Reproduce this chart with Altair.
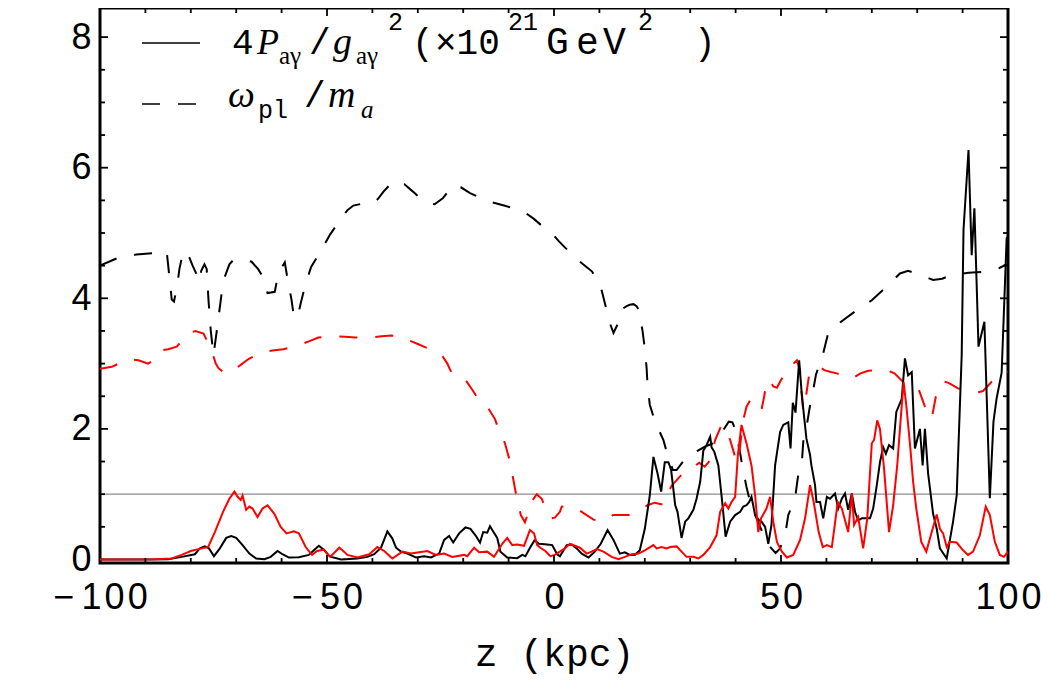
import altair as alt
import pandas as pd

# ---------------- data ----------------
# black solid: 4 P/g^2
bs_z = [-100, -90, -85, -82, -79.1, -78, -76.9, -76, -74.9, -73.6, -72.2, -71.1, -70, -68.6, -67.1, -65.6,
        -63.8, -62.4, -60.9, -59.8, -58.4, -56.2, -54, -52.9, -51.8, -50.7, -49.6, -49.1, -46.9, -43.3, -41.1,
        -39.6, -38.1, -36.7, -35.6, -34.8, -33.7, -32.3, -30.4, -28.6, -27.1, -25.3, -24.2, -23.1, -22.2, -20.9,
        -19.5, -18.4, -17.3, -16.3, -15.6, -14.7, -14.1, -13.6, -12.5, -11.8, -10.3, -8.1, -7, -6.3, -5.2, -4.3,
        -3.3, -1.5, -0.4, 0.7, 1.3, 2.8, 3.9, 5, 6.1, 7.6, 9, 10.3, 11.8, 13.1, 14.5, 15.6, 16.7, 17.8, 18.9,
        20, 21.1, 21.9, 22.8, 23.6, 24.4, 25.2, 25.8, 26.7, 27.2, 28.1, 28.9, 29.6, 30.7, 31.4, 32.2, 32.9, 33.6,
        34.4, 34.7, 35.3, 36.2, 36.9, 37.8, 38.8, 39.9, 41, 41.7, 42.4, 43, 43.5, 44.3, 45.2, 45.7, 46.5, 47.2,
        47.9, 48.7, 49.8, 50.5, 51.6, 52.1, 52.6, 53.2, 54.0, 54.5, 54.9, 55.6, 56.4, 56.7, 57.5, 57.8, 58.6,
        59.3, 60.1, 60.8, 61.9, 62.6, 63.4, 64.1, 64.8, 65.6, 66.3, 67, 67.8, 69.6, 70.3, 71.1, 71.8, 72.5, 73.1,
        73.8, 74.7, 75.4, 76.6, 77.3, 78, 78.8, 79.5, 80.6, 81.2, 81.7, 82.4, 83.5, 84.3, 85, 86.5, 87.9, 88.7,
        89.8, 90.2, 91.3, 92, 92.6, 93.5, 94.8, 96, 96.8, 97.5, 98.6, 99.7, 100]
bs_v = [0, 0, 0.005, 0.04, 0.08, 0.17, 0.2, 0.17, 0.05, 0.17, 0.33, 0.36, 0.33, 0.22, 0.09, 0.015,
        0.005, 0.04, 0.13, 0.08, 0.03, 0.035, 0.07, 0.14, 0.21, 0.15, 0.06, 0.04, 0.0, 0.015, 0.04,
        0.08, 0.18, 0.43, 0.32, 0.18, 0.12, 0.09, 0.03, 0.05, 0.03, 0.09, 0.3, 0.36, 0.26, 0.4,
        0.49, 0.47, 0.37, 0.26, 0.42, 0.41, 0.51, 0.45, 0.33, 0.12, 0.03, 0.02, 0.07, 0.05, 0.19, 0.29,
        0.24, 0.23, 0.22, 0.08, 0.05, 0.22, 0.23, 0.17, 0.09, 0.03, 0.12, 0.24, 0.45, 0.3, 0.09, 0.11, 0.07, 0.07, 0.14,
        0.47, 0.98, 1.57, 1.32, 1.04, 1.49, 1.49, 1.37, 0.83, 0.73, 0.33, 0.58, 0.63, 0.76, 0.93, 1.19, 1.67, 1.75,
        1.88, 1.72, 1.65, 1.44, 0.98, 0.35, 0.58, 0.68, 0.73, 0.81, 0.83, 0.88, 0.96, 0.68, 0.6, 0.58, 0.5, 0.24,
        0.53, 1.44, 1.95, 2.06, 2.1, 1.7, 2.4, 2.25, 3.05, 2.6, 2.31, 1.85, 1.6, 1.44, 1.14, 0.88, 0.88,
        0.63, 0.96, 0.93, 1.01, 0.78, 0.93, 1.01, 0.76, 1.01, 0.73, 0.6, 0.63, 0.63, 0.78, 1.14, 1.49, 1.72, 1.62,
        1.75, 1.7, 2.26, 2.46, 3.08, 2.82, 2.87, 1.7, 2.0, 1.44, 2.0, 1.32, 0.7, 0.47, 0.17, 0.015, 0.58, 0.98,
        3.13, 5.05, 6.27, 4.66, 5.38, 3.26, 3.64, 0.94, 2.11, 2.47, 2.86, 4.92, 4.95]

# red solid
rs_z = [-100, -88, -84.2, -82, -80, -77.6, -76.2, -74.7, -72.9, -71.5, -70.4, -69.7, -69, -68.6, -67.8, -67.1,
        -66.4, -65.3, -64.2, -63.1, -61.6, -60.2, -58.9, -57.3, -56.2, -54.7, -53.3, -52.2, -50.7, -49.3, -47.3,
        -46.6, -45.5, -43.3, -40.7, -38.9, -37.4, -35.6, -33.4, -31.5, -29.7, -27.9, -26, -24.2, -22.4, -19.8,
        -19.1, -17.6, -16.5, -14.7, -13.2, -11.4, -10.3, -9.2, -8.1, -6.6, -5.3, -4.4, -3.7, -3, -1.9, -0.8,
        0.2, 1.3, 2.4, 3.5, 4.6, 5.7, 7.2, 8.3, 9.4, 10.9, 12.7, 14.2, 15.6, 17.1, 18.6, 20, 21.9, 22.6, 23.7,
        24.8, 25.6, 27, 28.1, 29.2, 30.7, 31.8, 32.9, 34.4, 35.8, 36.6, 37.7, 38.4, 39.1, 39.9, 40.5, 41.3, 42.4,
        43.5, 44.3, 45, 45.6, 46.8, 47.6, 48.3, 49.1, 50.2, 51.3, 52.7, 54.2, 55.3, 56.4, 57.2, 58.3, 59.2, 60.1,
        61.2, 62.5, 63.4, 64.8, 65.6, 66.1, 67, 68.1, 69, 70, 70.5, 71.2, 71.8, 72.7, 73.8, 74.7, 75.6, 76.2, 77,
        77.6, 78.5, 79.1, 79.8, 80.9, 82, 83.2, 84.3, 85, 85.7, 86.5, 87.2, 88.7, 90.1, 91.2, 92.3, 93.8, 95.1,
        96, 97.1, 98.2, 99.1, 100]
rs_v = [0, 0.005, 0.015, 0.07, 0.13, 0.17, 0.19, 0.42, 0.73, 0.93, 1.04, 0.96, 0.91, 0.98, 0.76, 0.81,
        0.78, 0.65, 0.78, 0.83, 0.70, 0.5, 0.4, 0.43, 0.4, 0.19, 0.07, 0.13, 0.15, 0.04, 0.18,
        0.14, 0.07, 0.03, 0.08, 0.19, 0.13, 0.015, 0.12, 0.09, 0.11, 0.13, 0.07, 0.09, 0.04, 0.07,
        0.05, 0.18, 0.11, 0.12, 0.04, 0.24, 0.33, 0.22, 0.23, 0.21, 0.45, 0.4, 0.22, 0.18, 0.13, 0.05,
        0.07, 0.12, 0.17, 0.24, 0.21, 0.18, 0.09, 0.12, 0.16, 0.12, 0.04, 0.005, 0.04, 0.08, 0.09, 0.14, 0.22, 0.17, 0.19,
        0.17, 0.19, 0.2, 0.12, 0.04, 0.04, 0.015, 0.07, 0.19, 0.37, 0.73, 0.86, 0.78, 0.88, 0.96, 1.6, 2.06, 1.78,
        1.44, 0.98, 0.42, 0.63, 0.78, 0.96, 0.58, 0.27, 0.12, 0.03, 0.07, 0.3, 0.63, 1.14, 0.88, 0.42, 0.19, 0.22,
        0.19, 0.88, 0.78, 0.42, 1.01, 0.53, 0.65, 0.17, 0.63, 1.78, 1.83, 2.13, 2.0, 1.39, 0.42, 0.83, 1.44, 2.0, 2.72,
        2.36, 1.7, 1.19, 0.78, 0.27, 0.12, 0.42, 0.69, 0.47, 0.4, 0.19, 0.27, 0.26, 0.14, 0.07, 0.12, 0.37, 0.81,
        0.68, 0.27, 0.07, 0.04, 0.12]

# black dashed: omega_pl / m_a
bd_z = [-100, -96, -92, -88.3, -85.3, -84.9, -84.2, -83.7, -83, -82.5, -81.8, -81.3, -80.3, -79.6, -78.8,
        -78.3, -77.7, -77, -76.5, -76.1, -75.6, -75, -74.3, -73.2, -72.5, -71.5, -70.6, -68.5, -66.6, -65.2,
        -64.4, -63.1, -61.5, -60.7, -59.3, -58.7, -57.8, -57.3, -56.5, -55.8, -54.8, -53.5, -51.5, -49.3, -47.1,
        -45.5, -44.2, -42.2, -40.5, -38.8, -37.6, -36, -34.7, -33, -31, -29.3, -27.9, -26.3, -24.5, -22.3, -20.5,
        -18.5, -16.5, -14.8, -11, -6.9, -4.5, -2.5, -0.5, 1, 2.4, 5.2, 8.4, 10.4, 11.4, 12.3, 13.1, 14, 14.9,
        16, 16.7, 17.5, 18.2, 18.7, 19.5, 20, 20.4, 20.6, 21.1, 22.2, 24.1, 25, 26.2, 27, 29.2, 31.5, 33.3, 35.8,
        37, 38.5, 39.3, 40, 41, 41.5, 42.4, 43, 44.5, 46, 47.5, 48.8, 49.8, 50.9, 51.6, 53.1, 53.8, 54.6, 54.9,
        55.7, 56.3, 57, 57.7, 59.3, 60.4, 63, 66.7, 70, 73.3, 76.2, 78, 79.9, 83.5, 85.5, 87.6, 91.3, 95.7, 98, 100]
bd_v = [4.5, 4.62, 4.67, 4.69, 4.71, 4.45, 3.98, 3.95, 4.2, 4.45, 4.68, 4.73, 4.62, 4.5, 4.38,
        4.25, 4.42, 4.52, 4.45, 3.97, 3.5, 3.13, 3.49, 4.08, 4.33, 4.52, 4.59, 4.6, 4.56, 4.45,
        4.36, 4.08, 4.1, 4.39, 4.55, 4.3, 3.97, 3.72, 3.7, 3.92, 4.2, 4.48, 4.71, 4.98, 5.2,
        5.35, 5.42, 5.45, 5.44, 5.52, 5.63, 5.75, 5.8, 5.75, 5.63, 5.52, 5.46, 5.44, 5.53, 5.73, 5.7,
        5.61, 5.55, 5.49, 5.42, 5.34, 5.22, 5.1, 5.0, 4.88, 4.78, 4.59, 4.41, 4.15, 3.87, 3.62, 3.47, 3.6, 3.83,
        3.88, 3.9, 3.91, 3.88, 3.82, 3.5, 3.23, 2.93, 2.67, 2.37, 2.12, 1.83, 1.6, 1.37, 1.37, 1.57, 1.66, 1.73, 1.8,
        1.95, 2.11, 2.1, 1.98, 1.63, 1.42, 1.11, 0.94, 0.65, 0.4, 0.2, 0.1, 0.17, 0.37, 0.68, 0.94, 1.3, 1.49, 1.8,
        2.06, 2.32, 2.56, 2.83, 3.16, 3.47, 3.63, 3.82, 3.97, 4.18, 4.38, 4.42, 4.38, 4.28, 4.3, 4.36, 4.39, 4.41, 4.46, 4.53]

# red dashed
rd_z = [-100, -97.4, -93.8, -91.5, -89.4, -87.9, -86.6, -85, -83.1, -81.5, -80.2, -79, -77.2, -75.4, -74.5,
        -73.9, -72.5, -71, -69, -67.3, -64, -62, -59.6, -56.3, -54, -51.9, -48.2, -46, -43.8, -40.2, -38, -35.8,
        -34, -32.1, -30, -27.7, -24.7, -23.5, -22.5, -19.6, -18, -17, -14.5, -13, -12.4, -10.8, -9.7, -9, -8.2,
        -7.3, -6.4, -5.5, -4.9, -3.8, -2.7, -1.5, -0.5, 0.2, 1.3, 1.7, 3.5, 5.4, 8.7, 10.5, 13, 16.7, 18.5, 20.6,
        22.2, 24.1, 25, 25.9, 28.5, 30.3, 32, 33.2, 34.4, 35.5, 36.9, 37.8, 38.8, 39.9, 40.6, 41.1, 41.7, 42.4,
        43.3, 44.3, 45.7, 46.3, 46.8, 47.5, 48.3, 49.1, 50, 52, 53.5, 54.2, 54.5, 54.9, 55.5, 56.2, 57.5, 58.6,
        59.5, 61, 62.3, 63.5, 65.6, 67.5, 69.2, 71, 73.3, 75, 76.9, 80.2, 81.7, 82.5, 83.2, 84.1, 85.8, 87, 89,
        92.7, 94.5, 96.4, 98, 100]
rd_v = [2.92, 2.95, 3.07, 3.05, 3.0, 3.06, 3.2, 3.22, 3.26, 3.38, 3.47, 3.5, 3.46, 3.2, 3.0,
        2.93, 2.85, 2.88, 2.98, 3.07, 3.18, 3.2, 3.22, 3.28, 3.34, 3.4, 3.42, 3.41, 3.4, 3.4, 3.42, 3.43,
        3.42, 3.36, 3.3, 3.23, 3.13, 3.0, 2.85, 2.76, 2.6, 2.49, 2.32, 2.15, 2.03, 1.78, 1.5, 1.24, 0.94,
        0.68, 0.57, 0.75, 0.89, 1.0, 0.93, 0.72, 0.63, 0.64, 0.73, 0.81, 0.82, 0.76, 0.61, 0.58, 0.68, 0.68, 0.75, 0.83,
        0.87, 0.84, 1.0, 1.13, 1.33, 1.4, 1.48, 1.42, 1.52, 1.83, 2.06, 2.0, 1.83, 1.57, 1.48, 1.8, 2.14, 2.34,
        2.45, 2.42, 2.29, 2.5, 2.72, 2.75, 2.65, 2.63, 2.75, 2.95, 3.05, 2.9, 2.56, 2.28, 2.5, 2.83, 2.92, 2.95,
        2.9, 2.87, 2.85, 2.82, 2.77, 2.85, 2.89, 2.9, 2.9, 2.85, 2.72, 2.63, 2.34, 2.2, 2.16, 2.49, 2.73, 2.7, 2.62,
        2.55, 2.58, 2.72, 2.8, 2.87]

ref_line = [1.0]

# axis tick positions
x_labels = [-100, -50, 0, 50, 100]
x_major = [-50, 0, 50]
x_minor = [-90, -80, -70, -60, -40, -30, -20, -10, 10, 20, 30, 40, 60, 70, 80, 90]
y_labels = [0, 2, 4, 6, 8]
y_major = [2, 4, 6, 8]
y_minor = [0.5, 1, 1.5, 2.5, 3, 3.5, 4.5, 5, 5.5, 6.5, 7, 7.5, 8.5]

# ---------------- layout ----------------
W, H = 908, 555
YMIN, YMAX = -0.054, 8.446
MONO = "Liberation Mono"
SERIF = "Liberation Serif"
SANS = "Liberation Sans"

xs = alt.Scale(domain=[-100, 100], nice=False, zero=False)
ys = alt.Scale(domain=[YMIN, YMAX], nice=False, zero=False)

TS = "\u200a"
x_axis = alt.Axis(
    values=x_labels, ticks=False, tickSize=0, domain=False, grid=False,
    labelFont=SANS, labelFontSize=36, labelColor="black", labelBaseline="alphabetic",
    labelPadding=45, labelFlush=False, labelOverlap=False, labelBound=False,
    labelExpr="(datum.value < 0 ? '\u2212\u2009' : '') + join(split(format(abs(datum.value), 'd'), ''), '" + TS + "')",
    title="z (kpc)", titleFont=MONO, titleFontSize=38, titleFontWeight="normal", titleColor="black",
    titleBaseline="alphabetic", titleY=102, titleX=454,
)
y_axis = alt.Axis(
    values=y_labels, ticks=False, tickSize=0, domain=False, grid=False,
    labelFont=SANS, labelFontSize=36, labelColor="black", labelPadding=9,
    labelFlush=False, labelOverlap=False, title=None,
)

X = lambda f: alt.X(f, scale=xs, axis=x_axis, title="z (kpc)")
Y = lambda f: alt.Y(f, scale=ys, axis=y_axis, title=None)

layers = []

# reference line at 1
layers.append(
    alt.Chart(pd.DataFrame({"v": ref_line})).mark_rule(color="#8c8c8c", strokeWidth=1.2)
    .encode(y=Y("v:Q"))
)


def series(z, v, color, dash=None):
    kw = dict(color=color, strokeWidth=2, clip=True)
    if dash:
        kw["strokeDash"] = dash
    return alt.Chart(pd.DataFrame({"z": z, "v": v})).mark_line(**kw).encode(x=X("z:Q"), y=Y("v:Q"))


layers.append(series(bd_z, bd_v, "black", [18, 18]))
layers.append(series(rd_z, rd_v, "#ff0000", [18, 18]))
layers.append(series(bs_z, bs_v, "black"))
layers.append(series(rs_z, rs_v, "#ff0000"))


# inward frame ticks
def xticks(vals, length):
    d = pd.DataFrame({"t": vals})
    bot = alt.Chart(d).mark_rule(color="black", strokeWidth=1.8).encode(
        x=X("t:Q"), y=alt.value(H), y2=alt.value(H - length))
    top = alt.Chart(d).mark_rule(color="black", strokeWidth=1.8).encode(
        x=X("t:Q"), y=alt.value(0), y2=alt.value(length))
    return [bot, top]


def yticks(vals, length):
    d = pd.DataFrame({"t": vals})
    left = alt.Chart(d).mark_rule(color="black", strokeWidth=1.8).encode(
        y=Y("t:Q"), x=alt.value(0), x2=alt.value(length))
    right = alt.Chart(d).mark_rule(color="black", strokeWidth=1.8).encode(
        y=Y("t:Q"), x=alt.value(W), x2=alt.value(W - length))
    return [left, right]


layers += xticks(x_minor, 5) + xticks(x_major, 8)
layers += yticks(y_minor, 5) + yticks(y_major, 8)

# ---------------- legend ----------------
one = alt.Data(values=[{}])
layers.append(alt.Chart(one).mark_rule(color="black", strokeWidth=1.6).encode(
    x=alt.value(42), x2=alt.value(100), y=alt.value(35)))
layers.append(alt.Chart(one).mark_rule(color="black", strokeWidth=1.6, strokeDash=[18, 18]).encode(
    x=alt.value(42), x2=alt.value(97), y=alt.value(96)))


def txt(s, x, y, font, size, style="normal"):
    return alt.Chart(one).mark_text(
        text=s, font=font, fontSize=size, fontStyle=style, align="left",
        baseline="alphabetic", color="black").encode(x=alt.value(x), y=alt.value(y))


L1, L1s, L1p = 46, 56, 22
layers += [
    txt("4", 132, L1, MONO, 36),
    txt("P", 157, L1, SERIF, 36, "italic"),
    txt("a\u03b3", 179, L1s, SERIF, 25),
    txt("/", 209, L1, MONO, 36),
    txt("g", 233, L1, SERIF, 38, "italic"),
    txt("a\u03b3", 256, L1s, SERIF, 25),
    txt("2", 288, L1p, MONO, 25),
    txt("(", 312, L1, MONO, 36),
    txt("\u00d710", 335, L1, MONO, 36),
    txt("21", 408, L1p, MONO, 25),
    txt("G", 446, L1, MONO, 38),
    txt("e", 476, L1, MONO, 38),
    txt("V", 503, L1, MONO, 38),
    txt("2", 538, L1p, MONO, 25),
    txt(")", 594, L1, MONO, 36),
]
L2, L2s = 99, 110
layers += [
    txt("\u03c9", 128, L2, SERIF, 38, "italic"),
    txt("pl", 158, L2s, MONO, 25),
    txt("/", 204, L2, MONO, 36),
    txt("m", 228, L2, SERIF, 38, "italic"),
    txt("a", 261, L2s, SERIF, 25, "italic"),
]

chart = alt.layer(*layers).properties(
    width=W, height=H,
    autosize=alt.AutoSizeParams(type="none"),
    padding={"left": 92, "top": 0, "right": 34, "bottom": 116},
    background="white",
).configure_view(stroke="black", strokeWidth=3)

chart.save("out.html", embed_options={"renderer": "svg", "actions": False})
